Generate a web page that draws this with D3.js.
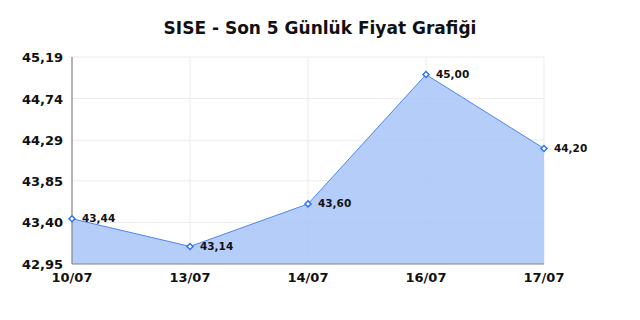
<!DOCTYPE html>
<html>
<head>
<meta charset="utf-8">
<script src="https://cdn.jsdelivr.net/npm/d3@7"></script>
<style>
  body { margin: 0; background: #fff; }
  text { font-family: 'DejaVu Sans', sans-serif; font-weight: bold; }
</style>
</head>
<body>
<svg id="chart" width="640" height="320"></svg>
<script>
const titleText = 'SISE - Son 5 Günlük Fiyat Grafiği';
const dates = ['10/07', '13/07', '14/07', '16/07', '17/07'];
const prices = [43.44, 43.14, 43.60, 45.00, 44.20];
const yTicks = [42.95, 43.40, 43.85, 44.29, 44.74, 45.19];

const fmt = (v) => v.toFixed(2).replace('.', ',');

const svg = d3.select('#chart');
const margin = { top: 57, right: 96, bottom: 56, left: 72 };
const width = 640 - margin.left - margin.right;
const height = 320 - margin.top - margin.bottom;

const x = d3.scalePoint().domain(dates).range([0, width]);
const y = d3.scaleLinear().domain([yTicks[0], yTicks[yTicks.length - 1]]).range([height, 0]);

svg.append('text')
  .attr('x', 320)
  .attr('y', 34)
  .attr('text-anchor', 'middle')
  .style('font-size', '17px')
  .attr('fill', '#111')
  .text(titleText);

const g = svg.append('g').attr('transform', `translate(${margin.left},${margin.top})`);

// grid
g.append('g')
  .selectAll('line')
  .data(yTicks)
  .join('line')
  .attr('x1', 0).attr('x2', width)
  .attr('y1', (d) => y(d)).attr('y2', (d) => y(d))
  .attr('stroke', '#ebebeb');
g.append('g')
  .selectAll('line')
  .data(dates)
  .join('line')
  .attr('x1', (d) => x(d)).attr('x2', (d) => x(d))
  .attr('y1', 0).attr('y2', height)
  .attr('stroke', '#ebebeb');

// area + line
const pts = dates.map((d, i) => ({ date: d, v: prices[i] }));
g.append('path')
  .datum(pts)
  .attr('d', d3.area().x((d) => x(d.date)).y0(height).y1((d) => y(d.v)))
  .attr('fill', '#a8c6f8')
  .attr('fill-opacity', 0.85);
g.append('path')
  .datum(pts)
  .attr('d', d3.line().x((d) => x(d.date)).y((d) => y(d.v)))
  .attr('fill', 'none')
  .attr('stroke', '#4a86f0')
  .attr('stroke-width', 1);

// axes lines
g.append('line').attr('x1', 0).attr('x2', 0).attr('y1', 0).attr('y2', height)
  .attr('stroke', '#888').attr('stroke-width', 1.2);
g.append('line').attr('x1', 0).attr('x2', width).attr('y1', height).attr('y2', height)
  .attr('stroke', '#888').attr('stroke-width', 1.2);

// tick labels
g.append('g')
  .selectAll('text')
  .data(yTicks)
  .join('text')
  .attr('x', -9)
  .attr('y', (d) => y(d) + 5)
  .attr('text-anchor', 'end')
  .style('font-size', '13px')
  .attr('fill', '#111')
  .text(fmt);
g.append('g')
  .selectAll('text')
  .data(dates)
  .join('text')
  .attr('x', (d) => x(d))
  .attr('y', height + 18)
  .attr('text-anchor', 'middle')
  .style('font-size', '13px')
  .attr('fill', '#111')
  .text((d) => d);

// markers (diamonds) + value labels
const marker = d3.symbol().type(d3.symbolSquare).size(18);
g.append('g')
  .selectAll('path')
  .data(pts)
  .join('path')
  .attr('d', marker)
  .attr('transform', (d) => `translate(${x(d.date)},${y(d.v)}) rotate(45)`)
  .attr('fill', '#fff')
  .attr('stroke', '#2f74f0')
  .attr('stroke-width', 1.5);
g.append('g')
  .selectAll('text')
  .data(pts)
  .join('text')
  .attr('x', (d) => x(d.date) + 10)
  .attr('y', (d) => y(d.v) + 3.5)
  .style('font-size', '10.5px')
  .attr('fill', '#111')
  .text((d) => fmt(d.v));
</script>
</body>
</html>
